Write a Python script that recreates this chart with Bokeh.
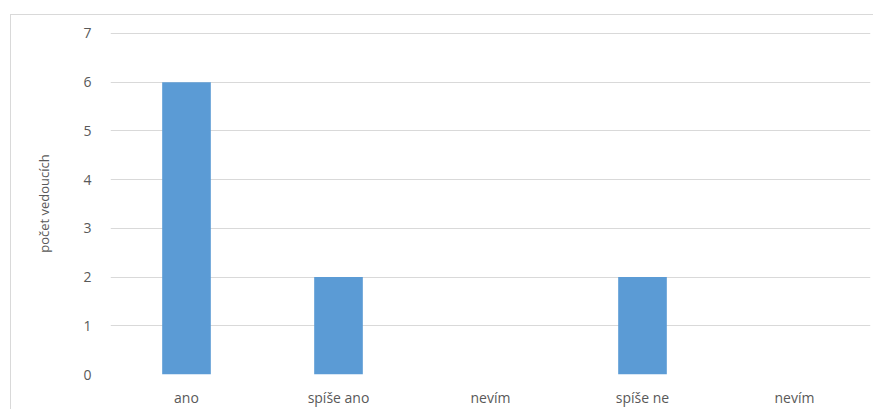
from bokeh.plotting import figure
from bokeh.models import ColumnDataSource, FixedTicker, Range1d
from bokeh.embed import file_html
from bokeh.resources import INLINE

categories = ["ano", "spíše ano", "nevím", "spíše ne", "nevím"]
counts = [6, 2, 0, 2, 0]
y_ticks = [0, 1, 2, 3, 4, 5, 6, 7]

xs = list(range(len(categories)))
src = ColumnDataSource(dict(x=xs, top=counts))

FONT = "Open Sans"
TXT = "#595959"

p = figure(frame_width=760, frame_height=342, output_backend="svg", toolbar_location=None,
           x_range=Range1d(-0.5, len(categories) - 0.5), y_range=Range1d(0, 7.02),
           min_border_left=99, min_border_right=3, min_border_top=17, min_border_bottom=34)
p.styles = {"margin-left": "10px", "margin-top": "14px",
            "border-left": "1px solid #d9d9d9", "border-top": "1px solid #d9d9d9"}

p.vbar(x="x", top="top", width=0.32, bottom=0, source=src,
       fill_color="#5b9bd5", line_color=None)

p.outline_line_color = None
p.background_fill_color = "white"
p.border_fill_color = "white"

p.xgrid.grid_line_color = None
p.ygrid.grid_line_color = "#d9d9d9"
p.ygrid.grid_line_width = 1
p.ygrid.ticker = FixedTicker(ticks=y_ticks)

p.xaxis.ticker = FixedTicker(ticks=xs)
p.xaxis.major_label_overrides = {i: c for i, c in enumerate(categories)}
p.xaxis.axis_line_color = None
p.xaxis.major_tick_line_color = None
p.xaxis.minor_tick_line_color = None
p.xaxis.major_label_standoff = 7
p.xaxis.major_label_text_font = FONT
p.xaxis.major_label_text_font_size = "14px"
p.xaxis.major_label_text_color = TXT

p.yaxis.ticker = FixedTicker(ticks=y_ticks)
p.yaxis.axis_line_color = None
p.yaxis.major_tick_line_color = None
p.yaxis.minor_tick_line_color = None
p.yaxis.major_label_standoff = 13
p.yaxis.major_label_text_font = FONT
p.yaxis.major_label_text_font_size = "14px"
p.yaxis.major_label_text_color = TXT
p.yaxis.axis_label = "počet vedoucích"
p.yaxis.axis_label_text_font = FONT
p.yaxis.axis_label_text_font_size = "13px"
p.yaxis.axis_label_text_font_style = "normal"
p.yaxis.axis_label_text_color = TXT
p.yaxis.axis_label_standoff = 27

open("out.html", "w").write(file_html(p, INLINE))
